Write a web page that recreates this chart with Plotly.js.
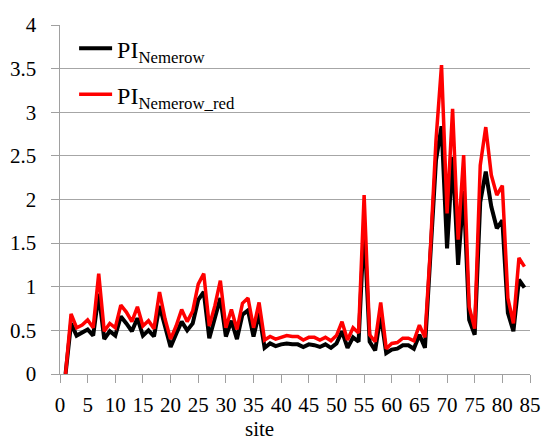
<!DOCTYPE html>
<html>
<head>
<meta charset="utf-8">
<script src="https://cdn.plot.ly/plotly-3.0.1.min.js"></script>
<style>html,body{margin:0;padding:0;background:#fff}#chart{width:543px;height:443px}</style>
</head>
<body>
<div id="chart"></div>
<script>
var sites = [];
for (var i = 1; i <= 84; i++) sites.push(i);

var piNemerow = [0,0.58,0.44,0.47,0.51,0.44,0.92,0.40,0.49,0.44,
0.66,0.58,0.49,0.64,0.44,0.50,0.43,0.78,0.54,0.31,
0.46,0.60,0.50,0.58,0.85,0.94,0.41,0.64,0.87,0.43,
0.61,0.40,0.68,0.73,0.43,0.70,0.30,0.35,0.32,0.34,
0.35,0.34,0.34,0.31,0.34,0.33,0.31,0.34,0.30,0.35,
0.49,0.30,0.42,0.37,1.70,0.37,0.27,0.68,0.24,0.28,
0.29,0.33,0.33,0.29,0.45,0.30,1.30,2.45,2.84,1.44,
2.49,1.25,2.10,0.62,0.45,1.97,2.32,1.92,1.67,1.76,
0.70,0.49,1.08,0.99];

var piNemerowRed = [0,0.69,0.53,0.56,0.62,0.53,1.15,0.49,0.58,0.53,
0.79,0.71,0.60,0.77,0.55,0.61,0.52,0.94,0.63,0.40,
0.55,0.74,0.60,0.72,1.03,1.15,0.55,0.78,1.07,0.53,
0.74,0.51,0.81,0.87,0.53,0.82,0.39,0.43,0.40,0.42,
0.44,0.43,0.43,0.39,0.42,0.42,0.39,0.42,0.38,0.44,
0.60,0.39,0.53,0.47,2.05,0.45,0.37,0.82,0.29,0.35,
0.36,0.41,0.41,0.38,0.56,0.42,1.45,2.68,3.54,1.84,
3.04,1.54,2.51,0.77,0.52,2.39,2.83,2.28,2.05,2.16,
0.87,0.58,1.33,1.23];

var seriesNames = ["PI<sub>Nemerow</sub>", "PI<sub>Nemerow_red</sub>"];
var xTitle = "site";

var FONT = "Liberation Serif";

var traces = [
  {x: sites, y: piNemerow, type: "scatter", mode: "lines", name: seriesNames[0],
   legendgroup: "a", line: {color: "#000000", width: 4}},
  {x: sites, y: piNemerowRed, type: "scatter", mode: "lines", name: seriesNames[1],
   legendgroup: "b", line: {color: "#ff0000", width: 3.5}}
];

var layout = {
  width: 543, height: 443,
  margin: {l: 60, r: 13, t: 25, b: 69, pad: 0},
  paper_bgcolor: "#ffffff", plot_bgcolor: "#ffffff",
  font: {family: FONT, size: 21, color: "#000000"},
  showlegend: true,
  legend: {x: 0.03, y: 0.997, xanchor: "left", yanchor: "top", itemwidth: 33,
           bgcolor: "rgba(255,255,255,0)", font: {family: FONT, size: 24, color: "#000"},
           tracegroupgap: 12, traceorder: "grouped"},
  xaxis: {range: [0, 85], dtick: 5, tick0: 0, showgrid: false, zeroline: false,
          showline: true, linecolor: "#a0a0a0", linewidth: 1.3,
          ticks: "outside", ticklen: 8, tickcolor: "#a0a0a0", tickwidth: 1.3,
          ticklabelstandoff: 4},
  yaxis: {range: [0, 4], dtick: 0.5, tick0: 0, showgrid: true, gridcolor: "#a6a6a6", gridwidth: 1.3,
          zeroline: false, showline: true, linecolor: "#a0a0a0", linewidth: 1.3,
          ticks: "outside", ticklen: 8, tickcolor: "#a0a0a0", tickwidth: 1.3,
          ticksuffix: '<span style="color:rgba(0,0,0,0)">0</span>'},
  annotations: [{text: xTitle, xref: "paper", yref: "paper", x: 0.425, y: -0.158,
                 xanchor: "center", yanchor: "middle", showarrow: false,
                 font: {family: FONT, size: 21, color: "#000"}}]
};

Plotly.newPlot("chart", traces, layout, {displayModeBar: false});
</script>
</body>
</html>
